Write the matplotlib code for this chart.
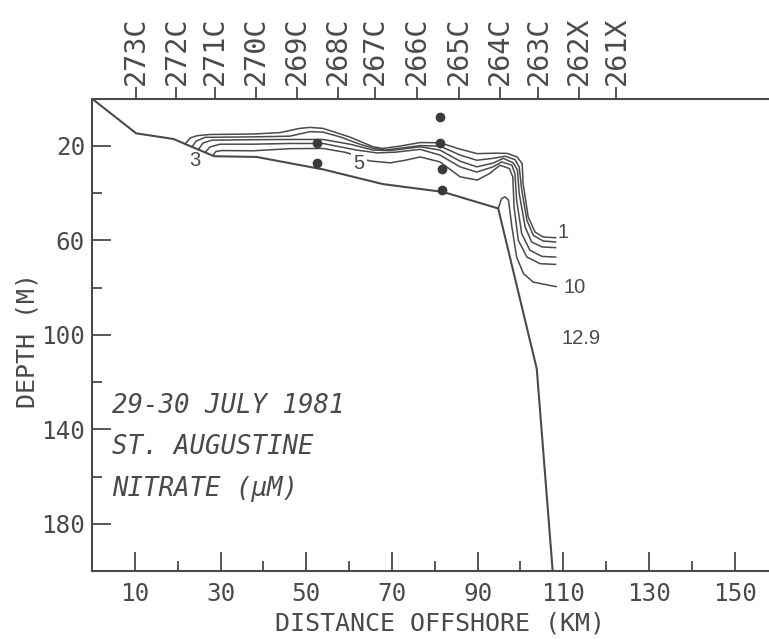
import matplotlib
matplotlib.use("Agg")
import matplotlib.pyplot as plt
from matplotlib.ticker import FixedLocator

# ---------------- data ----------------
# Bottom profile (distance km, depth m)
bottom_km = [0.0, 10.3, 19.0, 28.5, 38.4, 54.0, 67.9, 81.9, 94.8, 103.8, 107.6]
bottom_depth = [0.0, 14.7, 17.1, 24.4, 24.7, 30.0, 36.2, 39.5, 46.5, 114.4, 202.0]

# Nitrate contour lines (uM)
c1_km = [21.7, 22.9, 24.5, 27.5, 37.6, 43.9, 48.5, 50.9, 53.9, 60.2, 65.6, 67.9, 71.9, 76.6,
         81.2, 85.9, 89.9, 94.1, 96.9, 99.2, 100.4, 100.6, 101.8, 103.4, 105.3, 108.2]
c1_depth = [19.3, 16.7, 15.7, 15.2, 15.0, 14.4, 12.6, 12.2, 12.6, 16.3, 20.4, 21.1, 20.1, 18.6,
            18.7, 21.4, 23.3, 23.1, 23.2, 24.7, 27.5, 35.8, 50.1, 56.5, 58.6, 58.9]

c2_km = [23.3, 24.3, 26.4, 37.6, 46.2, 50.9, 53.9, 57.9, 62.5, 65.6, 68.4, 71.9, 76.6, 81.2,
         85.9, 89.8, 93.6, 96.4, 98.7, 99.7, 100.3, 101.5, 103.0, 105.3, 108.2]
c2_depth = [20.5, 18.0, 16.4, 16.2, 15.9, 14.0, 14.2, 16.2, 19.3, 21.0, 21.8, 21.0, 19.9, 20.1,
            23.9, 26.1, 25.3, 24.4, 25.8, 28.9, 38.8, 51.5, 57.9, 60.3, 60.7]

c3_km = [24.8, 25.9, 28.0, 37.6, 46.2, 53.9, 60.2, 65.6, 69.6, 76.6, 81.2, 85.9, 89.8, 93.6,
         96.0, 98.3, 99.3, 99.7, 101.1, 102.6, 105.0, 108.2]
c3_depth = [21.6, 18.8, 17.6, 17.4, 17.3, 17.3, 19.3, 21.8, 22.0, 20.4, 21.8, 26.5, 28.9, 27.3,
            25.3, 27.2, 30.3, 40.2, 54.4, 60.7, 62.8, 63.1]

c4_km = [26.4, 27.5, 29.9, 37.6, 46.2, 53.9, 61.8, 66.5, 70.7, 76.6, 81.2, 85.9, 89.8, 93.6,
         95.6, 98.0, 98.7, 99.1, 100.3, 102.2, 105.0, 108.2]
c4_depth = [22.8, 20.5, 19.3, 19.3, 19.0, 19.0, 21.8, 23.0, 22.7, 21.5, 23.9, 28.9, 31.1, 28.9,
            26.8, 28.2, 31.7, 43.0, 57.2, 64.2, 66.8, 67.1]

c5_km = [28.2, 28.9, 30.3, 37.6, 46.2, 53.9, 59.0, 60.2, 62.1, 64.9, 69.6, 73.1, 76.6, 81.2,
         85.9, 89.9, 92.9, 95.2, 97.4, 98.2, 98.5, 99.5, 101.5, 104.6, 108.2]
c5_depth = [24.1, 22.4, 22.0, 22.1, 21.2, 21.1, 22.7, 23.3, 25.0, 26.4, 27.2, 26.1, 24.7, 26.8,
            33.1, 34.5, 31.6, 28.2, 29.6, 33.1, 45.9, 60.0, 67.1, 69.9, 70.2]

c10_km = [94.8, 95.6, 96.4, 97.2, 98.0, 99.1, 100.7, 103.0, 106.9, 108.3]
c10_depth = [46.5, 42.3, 41.6, 43.0, 54.4, 67.1, 74.1, 77.7, 79.1, 79.6]

contour_km = [c1_km, c2_km, c3_km, c4_km, c5_km, c10_km]
contour_depth = [c1_depth, c2_depth, c3_depth, c4_depth, c5_depth, c10_depth]

# Contour labels
clabel_text = ["1", "10", "12.9", "3", "5"]
clabel_km = [109.9, 112.7, 114.1, 24.0, 62.3]
clabel_depth = [56.6, 80.1, 101.6, 26.4, 27.5]

# Sample points
dot_km = [52.5, 52.5, 81.2, 81.2, 81.8, 81.8]
dot_depth = [18.7, 27.2, 7.9, 18.7, 29.6, 38.5]

# Stations (top axis)
station_km = [10.3, 19.7, 28.7, 38.2, 47.8, 57.3, 66.0, 75.9, 85.7, 95.2, 104.2, 113.7, 122.4]
station_names = ["273C", "272C", "271C", "270C", "269C", "268C", "267C", "266C",
                 "265C", "264C", "263C", "262X", "261X"]

x_major = [10, 30, 50, 70, 90, 110, 130, 150]
x_minor = [20, 40, 60, 80, 100, 120, 140]
y_major = [20, 60, 100, 140, 180]
y_minor = [40, 80, 120, 160]

annot_lines = ["29-30 JULY 1981", "ST. AUGUSTINE", "NITRATE (\u03bcM)"]

# ---------------- plot ----------------
INK = "#4a4a4a"
MONO = "DejaVu Sans Mono"

W, H = 769, 639
fig = plt.figure(figsize=(W / 100, H / 100), dpi=100)
ax = fig.add_axes([92 / W, 68 / H, 1 - 92 / W, (571 - 98.6) / H])
ax.set_xlim(0, 158)
ax.set_ylim(200, 0)

for s in ["left", "bottom", "top"]:
    ax.spines[s].set_linewidth(1.5)
    ax.spines[s].set_color(INK)
ax.spines["right"].set_visible(False)

ax.plot(bottom_km, bottom_depth, color=INK, lw=1.5, solid_joinstyle="miter")
for xs, ds in zip(contour_km, contour_depth):
    ax.plot(xs, ds, color=INK, lw=1.1, solid_joinstyle="round")

ax.plot(dot_km, dot_depth, "o", ms=7, color="#3a3a3a", mec="none")

for t, xk, dk in zip(clabel_text, clabel_km, clabel_depth):
    kw = {}
    if t == "5":
        kw = dict(bbox=dict(boxstyle="square,pad=0.1", fc="white", ec="none"))
    ax.text(xk, dk, t, ha="center", va="center", fontsize=14.5, color=INK,
            family="Liberation Sans", **kw)

# axis ticks
ax.xaxis.set_major_locator(FixedLocator(x_major))
ax.xaxis.set_minor_locator(FixedLocator(x_minor))
ax.yaxis.set_major_locator(FixedLocator(y_major))
ax.yaxis.set_minor_locator(FixedLocator(y_minor))
ax.tick_params(axis="both", which="major", direction="in", length=13.5, width=1.3,
               color=INK, labelcolor=INK, labelsize=17.5)
ax.tick_params(axis="both", which="minor", direction="in", length=7, width=1.3, color=INK)
ax.tick_params(axis="x", which="major", pad=8)
ax.tick_params(axis="y", which="major", pad=5)
ax.xaxis.set_ticks_position("bottom")
ax.yaxis.set_ticks_position("left")
for lab in ax.get_xticklabels() + ax.get_yticklabels():
    lab.set_family(MONO)

# top station axis
ax2 = ax.twiny()
ax2.set_xlim(ax.get_xlim())
for s in ax2.spines.values():
    s.set_visible(False)
ax2.set_xticks(station_km)
ax2.set_xticklabels(station_names, rotation=90, family=MONO, fontsize=20.5, color=INK)
ax2.tick_params(axis="x", direction="out", length=8.5, width=1.3, color=INK, pad=1.5)

# axis titles
fig.text(440 / W, 1 - 624 / H, "DISTANCE OFFSHORE (KM)", ha="center", va="center",
         family=MONO, fontsize=18, color=INK)
fig.text(27 / W, 1 - 340 / H, "DEPTH (M)", ha="center", va="center", rotation=90,
         family=MONO, fontsize=18, color=INK)

# annotation block
for i, line in enumerate(annot_lines):
    ax.text(0.03, 1 - (406 + 41.5 * i - 98.6) / (571 - 98.6), line, transform=ax.transAxes,
            ha="left", va="center", family=MONO, style="oblique", fontsize=18.5, color=INK)

fig.savefig("out.png", dpi=100)
